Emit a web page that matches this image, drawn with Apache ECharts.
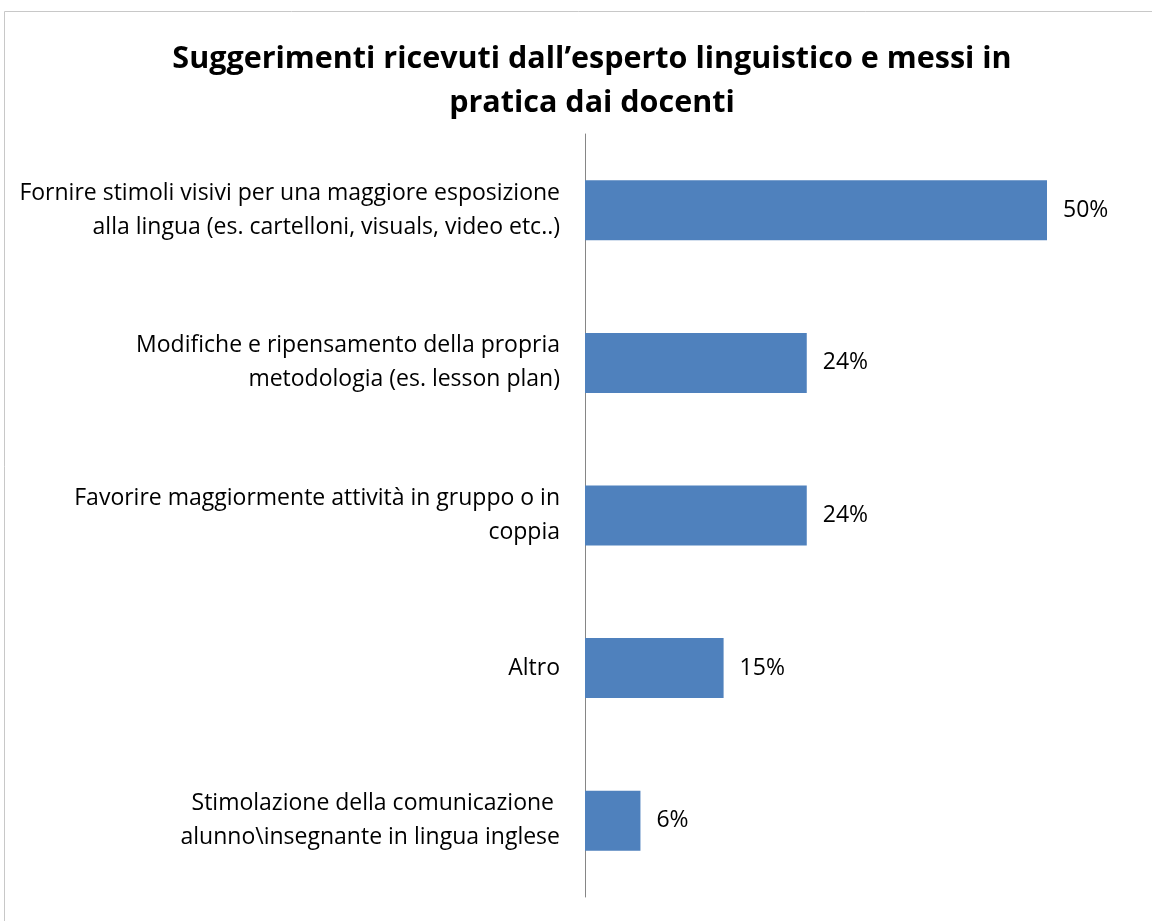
<!DOCTYPE html>
<html>
<head>
<meta charset="utf-8">
<script src="https://cdn.jsdelivr.net/npm/echarts@6/dist/echarts.min.js"></script>
<style>
  html, body { margin: 0; padding: 0; background: #ffffff; }
  #chart { width: 1152px; height: 921px; }
</style>
</head>
<body>
<div id="chart"></div>
<script>
// Suggestions from the language expert, put into practice by teachers
const categories = [
  'Fornire stimoli visivi per una maggiore esposizione\nalla lingua (es. cartelloni, visuals, video etc..)',
  'Modifiche e ripensamento della propria\nmetodologia (es. lesson plan)',
  'Favorire maggiormente attività in gruppo o in\ncoppia',
  'Altro',
  'Stimolazione della comunicazione \nalunno\\insegnante in lingua inglese'
];
const percentages = [50, 24, 24, 15, 6];

const FONT = '"Open Sans", Lato, sans-serif';

const chart = echarts.init(document.getElementById('chart'));
chart.setOption({
  backgroundColor: '#ffffff',
  animation: false,
  title: {
    text: 'Suggerimenti ricevuti dall\u2019esperto linguistico e messi in\npratica dai docenti',
    left: 587,
    textAlign: 'center',
    top: 32,
    textStyle: {
      fontFamily: FONT,
      fontWeight: 'bold',
      fontSize: 30.5,
      lineHeight: 44,
      color: '#000000'
    }
  },
  graphic: [
    { type: 'line', shape: { x1: 4.5, y1: 11.5, x2: 1152, y2: 11.5 }, style: { stroke: '#c8c8c8', lineWidth: 1 } },
    { type: 'line', shape: { x1: 4.5, y1: 11.5, x2: 4.5, y2: 921 }, style: { stroke: '#c8c8c8', lineWidth: 1 } }
  ],
  grid: {
    left: 585,
    top: 134,
    width: 554.4,
    height: 763,
    containLabel: false
  },
  xAxis: {
    type: 'value',
    min: 0,
    max: 60,
    show: false
  },
  yAxis: {
    type: 'category',
    inverse: true,
    data: categories,
    axisLine: { show: true, lineStyle: { color: '#868686', width: 1 } },
    axisTick: { show: false },
    axisLabel: {
      margin: 25,
      align: 'right',
      fontFamily: FONT,
      fontSize: 23,
      lineHeight: 34,
      color: '#000000'
    }
  },
  series: [{
    type: 'bar',
    data: percentages,
    barWidth: 60,
    itemStyle: { color: '#4F81BD' },
    label: {
      show: true,
      position: 'right',
      distance: 16,
      formatter: '{c}%',
      fontFamily: FONT,
      fontSize: 23,
      color: '#000000'
    }
  }]
});
</script>
</body>
</html>
